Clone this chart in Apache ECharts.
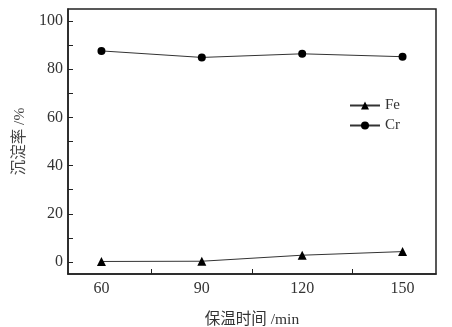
<!DOCTYPE html>
<html>
<head>
<meta charset="utf-8">
<script src="https://cdn.jsdelivr.net/npm/echarts@6/dist/echarts.min.js"></script>
<style>
  html, body { margin: 0; padding: 0; background: #fff; }
  #chart { width: 452px; height: 327px; }
</style>
</head>
<body>
<div id="chart"></div>
<script>
// 保温时间 (min)
const times = [60, 90, 120, 150];
// 沉淀率 (%)
const feRate = [0.2, 0.3, 2.8, 4.3];
const crRate = [87.6, 84.9, 86.4, 85.2];
// 刻度
const xLabels = [60, 90, 120, 150];
const xTicks = [75, 105, 135];
const yLabels = [0, 20, 40, 60, 80, 100];
const yTicks = [0, 10, 20, 30, 40, 50, 60, 70, 80, 90, 100];

const serif = '"Liberation Serif", "Noto Sans CJK SC", serif';
const chart = echarts.init(document.getElementById('chart'));

const option = {
  animation: false,
  grid: {
    left: 68, right: 16, top: 9, bottom: 53,
    outerBoundsMode: 'none',
    show: true, borderColor: '#222', borderWidth: 1.5
  },
  legend: {
    orient: 'vertical',
    left: 344, top: 93,
    itemWidth: 30, itemHeight: 10, itemGap: 5,
    textStyle: { fontFamily: serif, fontSize: 15, color: '#333' },
    data: ['Fe', 'Cr']
  },
  xAxis: {
    type: 'value', min: 50, max: 160,
    name: '保温时间 /min', nameLocation: 'middle', nameGap: 38,
    nameTextStyle: { fontFamily: serif, fontSize: 15.5, color: '#333' },
    axisLine: { onZero: false, lineStyle: { color: '#222', width: 1.5 } },
    axisTick: { inside: true, length: 5, customValues: xTicks, lineStyle: { color: '#222' } },
    axisLabel: { customValues: xLabels, margin: 7, fontFamily: serif, fontSize: 16, color: '#333' },
    splitLine: { show: false }
  },
  yAxis: {
    type: 'value', min: -5, max: 105,
    name: '沉淀率 /%', nameLocation: 'middle', nameGap: 40,
    nameTextStyle: { fontFamily: serif, fontSize: 15.5, color: '#444' },
    axisLine: { onZero: false, lineStyle: { color: '#222', width: 1.5 } },
    axisTick: { inside: true, length: 5, customValues: yTicks, lineStyle: { color: '#222' } },
    axisLabel: { customValues: yLabels, margin: 5, fontFamily: serif, fontSize: 16, color: '#333' },
    splitLine: { show: false }
  },
  series: [
    {
      name: 'Fe', type: 'line',
      data: times.map((t, i) => [t, feRate[i]]),
      symbol: 'triangle', symbolSize: 9,
      lineStyle: { color: '#333', width: 1 },
      itemStyle: { color: '#000' }
    },
    {
      name: 'Cr', type: 'line',
      data: times.map((t, i) => [t, crRate[i]]),
      symbol: 'circle', symbolSize: 8,
      lineStyle: { color: '#333', width: 1 },
      itemStyle: { color: '#000' }
    }
  ]
};
chart.setOption(option);
</script>
</body>
</html>
